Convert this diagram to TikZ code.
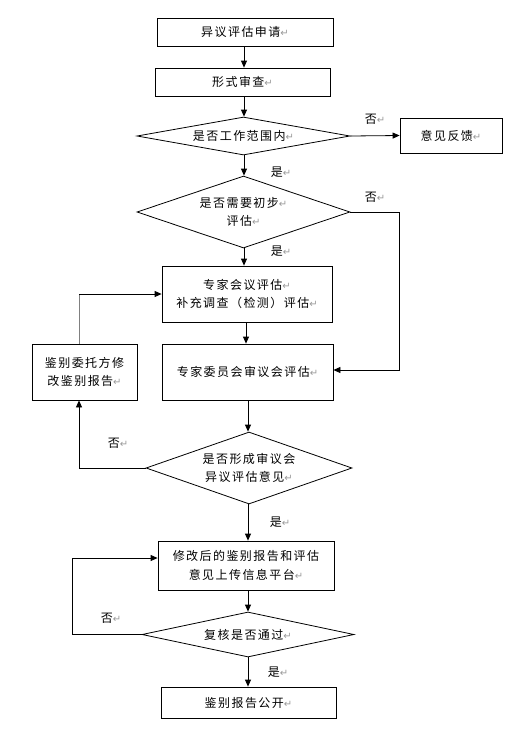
\documentclass[tikz,border=0pt]{standalone}
\usepackage{fontspec}
\setmainfont{Noto Sans CJK SC}[LetterSpace=12]
\newfontfamily\markfont{DejaVu Sans}
\usetikzlibrary{shapes.geometric,arrows.meta}
\newcommand{\pmk}{{\markfont\color{gray!80}\fontsize{10}{10}\selectfont ↵}}
\tikzset{
  box/.style={draw, thick, line width=0.8pt, inner sep=0pt, align=center, font=\fontsize{12}{18.5}\selectfont},
  decision/.style={draw, diamond, line width=0.8pt, inner sep=0pt, align=center, font=\fontsize{12}{18.5}\selectfont},
  arr/.style={line width=0.8pt, -{Triangle[length=7pt,width=6pt]}},
  tag/.style={inner sep=0pt, font=\fontsize{12}{12}\selectfont}
}
\begin{document}
\begin{tikzpicture}[x=1pt,y=-1pt]
        \useasboundingbox (0,0) rectangle (520,732);

        % Application and form check
        \node[box, minimum width=176, minimum height=28] (apply) at (245,32) {异议评估申请\pmk};
        \node[box, minimum width=175, minimum height=28] (form) at (242.5,82) {形式审查\pmk};

        % First decision: within scope
        \node[decision, aspect=5.6, minimum width=213, minimum height=38] (scope) at (243.5,136) {是否工作范围内\pmk};
        \node[box, minimum width=102, minimum height=35] (feedback) at (451,135.5) {意见反馈\pmk};

        % Second decision: preliminary evaluation
        \node[decision, aspect=2.96, minimum width=213, minimum height=72] (prelim) at (243.5,212) {是否需要初步\pmk\\评估\pmk};

        % Expert evaluation boxes
        \node[box, minimum width=170, minimum height=56] (expert) at (247,294) {专家会议评估\pmk\\补充调查（检测）评估\pmk};
        \node[box, minimum width=171, minimum height=56] (council) at (247.5,372) {专家委员会审议会评估\pmk};
        \node[box, minimum width=105, minimum height=56] (fix) at (84.5,372) {鉴别委托方修\\改鉴别报告\pmk};

        % Third decision: opinion formed
        \node[decision, aspect=2.86, minimum width=206, minimum height=72] (opinion) at (249,468) {是否形成审议会\\异议评估意见\pmk};

        % Upload, recheck and publish
        \node[box, minimum width=176, minimum height=49] (upload) at (246,565.5) {修改后的鉴别报告和评估\\意见上传信息平台\pmk};
        \node[decision, aspect=4.7, minimum width=212, minimum height=45] (recheck) at (248,634.5) {复核是否通过\pmk};
        \node[box, minimum width=175, minimum height=31] (publish) at (248.5,702.5) {鉴别报告公开\pmk};

        % Yes / no labels
        \node[tag] (no1) at (375,119) {否\pmk};
        \node[tag] (yes1) at (281,172) {是\pmk};
        \node[tag] (no2) at (375,197) {否\pmk};
        \node[tag] (yes2) at (281,251) {是\pmk};
        \node[tag] (no3) at (118,443) {否\pmk};
        \node[tag] (yes3) at (280,522) {是\pmk};
        \node[tag] (no4) at (111,618) {否\pmk};
        \node[tag] (yes4) at (278,672) {是\pmk};

        % Main flow
        \draw[arr] (apply.south -| 244,0) -- (form.north -| 244,0);
        \draw[arr] (form.south -| 244,0) -- (scope.north -| 244,0);
        \draw[arr] (scope.east) -- (feedback.west);
        \draw[arr] (scope.south -| 244,0) -- (prelim.north -| 244,0);
        \draw[arr] (prelim.south -| 244,0) -- (expert.north -| 244,0);
        \draw[arr] (prelim.east) -- ++(49,0) |- ([yshift=2pt]council.east);
        \draw[arr] (expert.south -| 246,0) -- (council.north -| 246,0);
        \draw[arr] (council.south -| 248,0) -- (opinion.north -| 248,0);

        % Loop back through the client revision
        \draw[arr] (opinion.west) -| ([xshift=-5.5pt]fix.south);
        \draw[gray, line width=0.8pt] ([xshift=-5.5pt]fix.north) coordinate (up) -- (up |- expert.west) coordinate (corner);
        \draw[arr] (corner) -- (expert.west);

        % Lower part
        \draw[arr] (opinion.south -| 248,0) -- (upload.north -| 248,0);
        \draw[arr] (upload.south -| 248,0) -- (recheck.north -| 248,0);
        \draw[arr] (recheck.west) -- ++(-69,0) |- ([yshift=7.5pt]upload.west);
        \draw[arr] (recheck.south -| 248,0) -- (publish.north -| 248,0);
    \end{tikzpicture}
\end{document}
